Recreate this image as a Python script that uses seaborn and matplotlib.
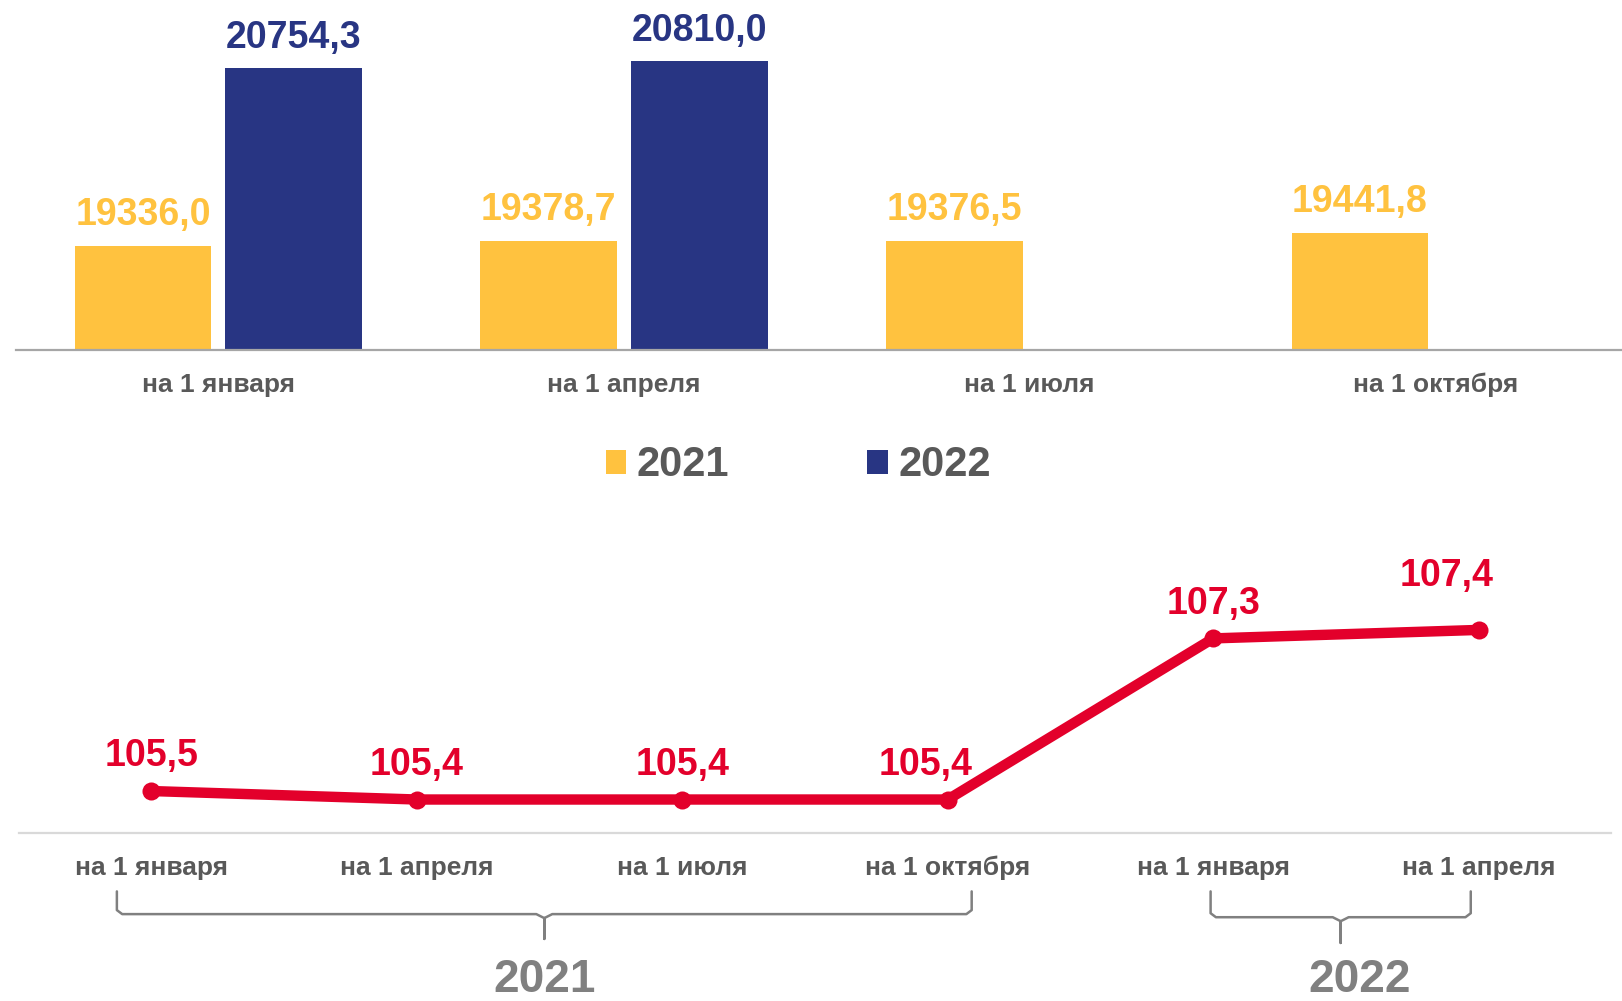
import numpy as np
import pandas as pd
import seaborn as sns
import matplotlib.pyplot as plt
from matplotlib.patches import Patch
from matplotlib import transforms

# data
bar_cats = ['на 1 января', 'на 1 апреля', 'на 1 июля', 'на 1 октября']
vals_2021 = [19336.0, 19378.7, 19376.5, 19441.8]
vals_2022 = [20754.3, 20810.0, None, None]
years = ['2021', '2022']

line_labels = ['на 1 января', 'на 1 апреля', 'на 1 июля', 'на 1 октября',
               'на 1 января', 'на 1 апреля']
line_vals = [105.5, 105.4, 105.4, 105.4, 107.3, 107.4]
line_groups = [('2021', 0, 3), ('2022', 4, 5)]

yellow = '#FFC23F'
blue = '#283583'
red = '#E3002B'
gray_txt = '#595959'
gray_brace = '#808080'

sns.set_theme(style='white')
plt.rcParams['font.family'] = ['Liberation Sans', 'DejaVu Sans']

df = pd.DataFrame({
    'cat': bar_cats * 2,
    'year': ['2021'] * 4 + ['2022'] * 4,
    'val': vals_2021 + vals_2022,
}).dropna()

fig = plt.figure(figsize=(16.22, 10.01), dpi=100)

# top: bars
ax1 = fig.add_axes([0.0096, 0.650, 0.9904, 0.350])
sns.barplot(data=df, x='cat', y='val', hue='year', order=bar_cats, hue_order=years,
            palette=[yellow, blue], width=0.744, gap=0.094, legend=False, ax=ax1,
            saturation=1, edgecolor='none')
ax1.set_ylim(18503, 21298)
ax1.set_xlim(-0.5, 3.46)
for cont, col in zip(ax1.containers, [yellow, blue]):
    ax1.bar_label(cont, fmt=lambda v: f'{v:.1f}'.replace('.', ','), padding=9,
                  color=col, fontsize=27, fontweight='bold')
ax1.set_xlabel('')
ax1.set_ylabel('')
ax1.set_yticks([])
ax1.tick_params(axis='x', length=0, pad=16, labelsize=19, labelcolor=gray_txt)
for t in ax1.get_xticklabels():
    t.set_fontweight('bold')
for s in ['top', 'left', 'right']:
    ax1.spines[s].set_visible(False)
ax1.spines['bottom'].set_color('#A6A6A6')
ax1.spines['bottom'].set_linewidth(1.6)

handles = [Patch(facecolor=yellow, edgecolor='none'), Patch(facecolor=blue, edgecolor='none')]
fig.legend(handles, years, loc='center', bbox_to_anchor=(0.492, 0.535), ncol=2,
           frameon=False, prop={'weight': 'bold', 'size': 30}, labelcolor=gray_txt,
           handlelength=0.5, handleheight=0.5, handletextpad=0.25, columnspacing=3.3)

# bottom: line
ax2 = fig.add_axes([0.0115, 0.1674, 0.982, 0.2965])
xs = np.arange(len(line_vals))
sns.lineplot(x=xs, y=line_vals, color=red, linewidth=7.5, marker='o', markersize=13,
             markeredgewidth=0, ax=ax2)
ax2.set_xlim(-0.5, 5.5)
ax2.set_ylim(105.0, 108.5)
offsets = [(0, 12), (0, 12), (0, 12), (-16, 12), (0, 12), (-23, 26)]
for x, v, (dx, dy) in zip(xs, line_vals, offsets):
    ax2.annotate(f'{v:.1f}'.replace('.', ','), (x, v), xytext=(dx, dy),
                 textcoords='offset points', ha='center', va='bottom',
                 color=red, fontsize=27, fontweight='bold')
ax2.set_xticks(xs)
ax2.set_xticklabels(line_labels)
ax2.set_yticks([])
ax2.tick_params(axis='x', length=0, pad=16, labelsize=19, labelcolor=gray_txt)
for t in ax2.get_xticklabels():
    t.set_fontweight('bold')
for s in ['top', 'left', 'right']:
    ax2.spines[s].set_visible(False)
ax2.spines['bottom'].set_color('#D9D9D9')
ax2.spines['bottom'].set_linewidth(1.6)

# braces under the line axis
trans = transforms.blended_transform_factory(ax2.transData, fig.transFigure)
brace_style = [(-0.13, 0.09, 0.1095, 0.0868, 0.062, 0.021, 0.0),
               (-0.01, -0.03, 0.1095, 0.0837, 0.058, 0.021, 0.07)]
for (name, i0, i1), (p0, p1, ytop, ymid, ytip, ylab, lx) in zip(line_groups, brace_style):
    x0, x1 = i0 + p0, i1 + p1
    xc = (x0 + x1) / 2
    r = 0.004
    bx = [x0, x0, x0 + 0.02, xc - 0.03, xc, xc, xc, xc + 0.03, x1 - 0.02, x1, x1]
    by = [ytop, ymid + r, ymid, ymid, ymid - r, ytip, ymid - r, ymid, ymid, ymid + r, ytop]
    ax2.plot(bx, by, transform=trans, color=gray_brace, lw=1.8, clip_on=False,
             solid_joinstyle='round')
    ax2.text(xc + lx, ylab, name, transform=trans, ha='center', va='center',
             fontsize=33, fontweight='bold', color=gray_brace)

fig.savefig('out.png', dpi=100)
